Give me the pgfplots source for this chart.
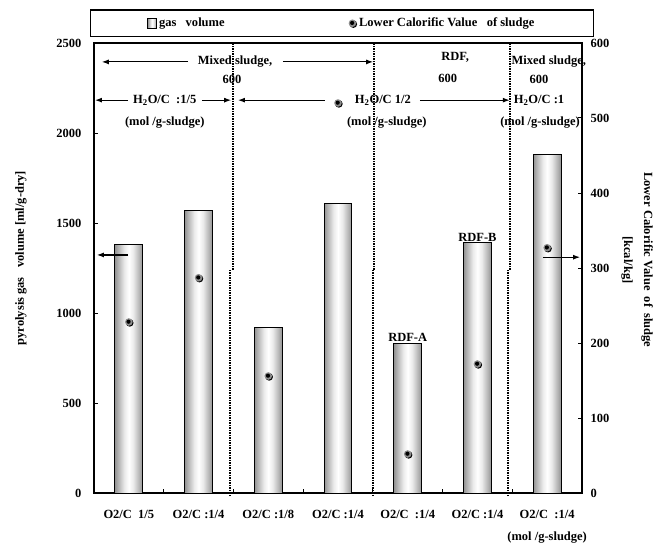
\documentclass[border=0pt]{standalone}
\usepackage{fontspec}
\setmainfont{Liberation Serif}
\usepackage{pgfplots}
\pgfplotsset{compat=1.18}
\usetikzlibrary{arrows.meta}
\pgfdeclarehorizontalshading{cyl}{100bp}{color(0bp)=(black); color(8bp)=(black!78); color(18bp)=(black!58); color(30bp)=(black!32); color(42bp)=(black!8); color(50bp)=(white); color(58bp)=(black!8); color(70bp)=(black!32); color(82bp)=(black!58); color(92bp)=(black!78); color(100bp)=(black)}
\pgfdeclareplotmark{lcv}{%
  \pgfpathcircle{\pgfpoint{0.9pt}{-0.9pt}}{3.8pt}\pgfsetfillcolor{black}\pgfusepath{fill}%
  \pgfpathcircle{\pgfpoint{0pt}{0pt}}{3.8pt}\pgfsetfillcolor{black!45}\pgfusepath{fill}%
  \pgfpathcircle{\pgfpoint{-0.3pt}{0.3pt}}{2.1pt}\pgfsetfillcolor{black}\pgfusepath{fill}}
\newcommand\F{\bfseries\fontsize{12.5}{15}\selectfont}
\pgfplotsset{cylbar/.style={ybar, bar width=0.4, draw=black, line width=1pt, shade, shading=cyl}}
\begin{document}
\begin{tikzpicture}[font=\F]
\begin{axis}[
  at={(0,0)}, anchor=south west,
  scale only axis, width=488pt, height=450pt,
  xmin=-0.5, xmax=6.5, ymin=0, ymax=2500,
  axis line style={line width=1.6pt},
  xtick={0.5,1.5,...,5.5},
  xticklabels={,,,,,},
  extra x ticks={0,1,2,3,4,5,6},
  extra x tick labels={O2/C\ \ 1/5, O2/C :1/4, O2/C :1/8, O2/C :1/4, O2/C\ \ :1/4, O2/C :1/4, {O2/C\ \ :1/4\\[7pt](mol /g-sludge)}},
  extra x tick style={major tick length=0pt, xticklabel style={align=center, yshift=-14pt}},
  xtick pos=bottom,
  ytick={0,500,...,2500},
  ytick pos=left,
  tick align=inside, major tick length=4pt,
  tick style={line width=1pt, black},
  yticklabel style={xshift=-9pt},
  /pgf/number format/assume math mode=true,
  /pgf/number format/1000 sep={},
  tick label style={font=\F},
  ylabel={pyrolysis gas\ \ \ volume [ml/g-dry]},
  ylabel style={at={(axis description cs:-0.150,0.522)}, anchor=center},
  clip=false,
  legend columns=2,
  legend style={at={(axis description cs:0.508,1)}, anchor=south, yshift=6pt,
    draw=black, line width=1.2pt, inner xsep=57pt, inner ysep=6pt, font=\F,
    /tikz/every even column/.append style={column sep=122pt}},
]
\addplot[cylbar,
  legend image code/.code={\draw[shade, shading=cyl, draw=black, line width=0.6pt] (0pt,-5pt) rectangle (9pt,5pt);}]
  coordinates {(0,1378)};
\addlegendentry{gas\ \ \ volume}
\addlegendimage{only marks, mark=lcv}
\addlegendentry{Lower Calorific Value\ \ \ of sludge}
\addplot[cylbar, forget plot] coordinates {(1,1567)};
\addplot[cylbar, forget plot] coordinates {(2,917)};
\addplot[cylbar, forget plot] coordinates {(3,1611)};
\addplot[cylbar, forget plot] coordinates {(4,833)};
\addplot[cylbar, forget plot] coordinates {(5,1389)};
\addplot[cylbar, forget plot] coordinates {(6,1878)};

% dotted separators
\draw[line width=2pt, dash pattern=on 1.5pt off 1pt] (axis cs:1.455,-18) -- (axis cs:1.455,1240);
\draw[line width=2pt, dash pattern=on 1.5pt off 1pt] (axis cs:1.495,1240) -- (axis cs:1.495,2500);
\draw[line width=2pt, dash pattern=on 1.5pt off 1pt] (axis cs:3.495,-18) -- (axis cs:3.495,1240);
\draw[line width=2pt, dash pattern=on 1.5pt off 1pt] (axis cs:3.515,1240) -- (axis cs:3.515,2500);
\draw[line width=2pt, dash pattern=on 1.5pt off 1pt] (axis cs:5.445,-18) -- (axis cs:5.445,1240);
\draw[line width=2pt, dash pattern=on 1.5pt off 1pt] (axis cs:5.47,1240) -- (axis cs:5.47,2500);

% annotations
\node at (axis description cs:0.289,0.958) {Mixed sludge,};
\draw[-{Latex[length=7pt,width=5pt]}, line width=1.1pt] (axis description cs:0.193,0.958) -- (axis description cs:0.016,0.958);
\draw[-{Latex[length=7pt,width=5pt]}, line width=1.1pt] (axis description cs:0.387,0.958) -- (axis description cs:0.572,0.958);
\node at (axis description cs:0.283,0.918) {600};
\node at (axis description cs:0.740,0.967) {RDF,};
\node at (axis description cs:0.725,0.922) {600};
\node at (axis description cs:0.932,0.958) {Mixed sludge,};
\node at (axis description cs:0.912,0.920) {600};

\draw[-{Latex[length=7pt,width=5pt]}, line width=1.1pt] (axis description cs:0.070,0.873) -- (axis description cs:0.002,0.873);
\node at (axis description cs:0.145,0.873) {H\textsubscript{2}O/C\ \ :1/5};
\draw[-{Latex[length=7pt,width=5pt]}, line width=1.1pt] (axis description cs:0.221,0.873) -- (axis description cs:0.281,0.873);
\draw[-{Latex[length=7pt,width=5pt]}, line width=1.1pt] (axis description cs:0.473,0.873) -- (axis description cs:0.295,0.873);
\node at (axis description cs:0.592,0.873) {H\textsubscript{2}O/C\ 1/2};
\draw[-{Latex[length=7pt,width=5pt]}, line width=1.1pt] (axis description cs:0.668,0.873) -- (axis description cs:0.852,0.873);
\node at (axis description cs:0.912,0.873) {H\textsubscript{2}O/C :1};
\node at (axis description cs:0.145,0.824) {(mol /g-sludge)};
\node at (axis description cs:0.600,0.824) {(mol /g-sludge)};
\node at (axis description cs:0.914,0.824) {(mol /g-sludge)};

\draw[-{Latex[length=7pt,width=5pt]}, line width=1.1pt] (axis description cs:0.070,0.529) -- (axis description cs:0.006,0.529);
\draw[-{Latex[length=7pt,width=5pt]}, line width=1.1pt] (axis description cs:0.920,0.524) -- (axis description cs:0.996,0.524);

\node[anchor=south, inner sep=1.5pt] at (axis cs:4,833) {RDF-A};
\node[anchor=south, inner sep=1.5pt] at (axis cs:5,1389) {RDF-B};

\node[rotate=-90, align=center] at (axis description cs:1.113,0.518) {Lower Calorific Value\ \ of\ \ sludge\\[5pt][kcal/kg]};
\end{axis}

\begin{axis}[
  at={(0,0)}, anchor=south west,
  scale only axis, width=488pt, height=450pt,
  xmin=-0.5, xmax=6.5, ymin=0, ymax=600,
  axis y line*=right, axis x line=none,
  axis line style={line width=1.6pt},
  ytick={0,100,...,600},
  tick align=inside, major tick length=4pt,
  tick style={line width=1pt, black},
  yticklabel style={xshift=5pt},
  /pgf/number format/assume math mode=true,
  tick label style={font=\F},
  clip=false,
]
\addplot[only marks, mark=lcv] coordinates {(0,228) (1,287) (2,156) (3,520) (4,52) (5,172) (6,327)};
\end{axis}
\pgfresetboundingbox
\path[use as bounding box] (-94pt,-54pt) rectangle (569pt,493pt);
\end{tikzpicture}
\end{document}
